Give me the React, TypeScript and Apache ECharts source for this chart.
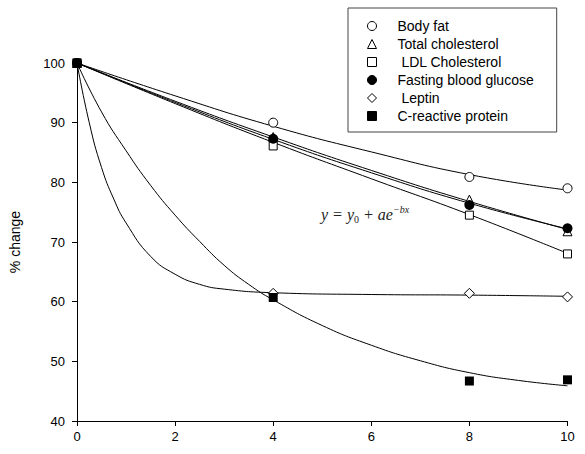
import React, { useEffect, useRef } from "react";
import * as echarts from "echarts";

// Measured points
const timePoints = [0, 4, 8, 10];
const bodyFat = [100, 90.0, 80.9, 79.0];
const totalChol = [100, 87.6, 77.1, 71.8];
const ldlChol = [100, 86.1, 74.5, 68.0];
const glucose = [100, 87.3, 76.2, 72.3];
const leptin = [100, 61.4, 61.4, 60.8];
const crp = [100, 60.7, 46.7, 46.9];

// Fitted curves
const fitX = [0, 2, 4, 6, 8, 10];
const bodyFatFit = [100, 94.5, 89.4, 85.1, 81.3, 78.7];
const totalCholFit = [100, 93.6, 87.6, 82.0, 76.8, 72.1];
const glucoseFit = [100, 93.4, 87.2, 81.6, 76.5, 72.2];
const ldlFit = [100, 93.2, 86.7, 80.6, 74.6, 68.1];
const leptinFitX = [0, 0.25, 0.5, 0.75, 1, 1.5, 2, 2.5, 3, 4, 6, 8, 10];
const leptinFit = [100, 90.0, 82.5, 77.2, 73.2, 67.6, 64.6, 62.9, 62.1, 61.5, 61.2, 61.1, 60.9];
const crpFitX = [0, 0.5, 1, 1.5, 2, 2.5, 3, 3.5, 4, 5, 6, 7, 8, 9, 10];
const crpFit = [100, 91.8, 85.3, 79.5, 74.5, 70.1, 66.1, 62.9, 60.3, 56.0, 52.7, 50.1, 48.1, 46.8, 45.9];

const seriesNames = [
  "Body fat",
  "Total cholesterol",
  " LDL Cholesterol",
  "Fasting blood glucose",
  " Leptin",
  "C-reactive protein",
];

const xTicks = { min: 0, max: 10, interval: 2 };
const yTicks = { min: 40, max: 100, interval: 10 };

const pair = (xs: number[], ys: number[]) => xs.map((x, i) => [x, ys[i]]);

export default function App() {
  const ref = useRef<HTMLDivElement>(null);
  useEffect(() => {
    if (!ref.current) return;
    const chart = echarts.init(ref.current, undefined, { renderer: "svg" });
    const fits: [string, number[], number[]][] = [
      ["fit-bodyfat", fitX, bodyFatFit],
      ["fit-chol", fitX, totalCholFit],
      ["fit-ldl", fitX, ldlFit],
      ["fit-glucose", fitX, glucoseFit],
      ["fit-leptin", leptinFitX, leptinFit],
      ["fit-crp", crpFitX, crpFit],
    ];
    const lineSeries = fits.map(([name, xs, ys]) => ({
      name,
      type: "line",
      data: pair(xs, ys),
      smooth: 0.5,
      showSymbol: false,
      symbol: "none",
      lineStyle: { color: "#000", width: 1 },
      silent: true,
      z: 2,
    }));
    const hollow = { color: "#fff", borderColor: "#000", borderWidth: 1, opacity: 1 };
    const filled = { color: "#000", borderColor: "#000", borderWidth: 0, opacity: 1 };
    const pts: [string, number[], string, number, any][] = [
      [seriesNames[0], bodyFat, "circle", 9, hollow],
      [seriesNames[1], totalChol, "triangle", 9, hollow],
      [seriesNames[2], ldlChol, "rect", 8, hollow],
      [seriesNames[3], glucose, "circle", 10, filled],
      [seriesNames[4], leptin, "diamond", 10, hollow],
      [seriesNames[5], crp, "rect", 9, filled],
    ];
    const scatterSeries = pts.map(([name, ys, symbol, size, style]) => ({
      name,
      type: "scatter",
      data: pair(timePoints, ys),
      symbol,
      symbolSize: size,
      itemStyle: style,
      clip: false,
      z: 3,
    }));

    chart.setOption({
      animation: false,
      textStyle: { fontFamily: "Liberation Sans" },
      grid: { left: 71, right: 17.5, top: 63, bottom: 33 },
      legend: {
        data: seriesNames,
        orient: "vertical",
        left: 348,
        top: 8,
        padding: [11, 23, 9, 19],
        itemGap: 4,
        itemWidth: 9,
        itemHeight: 9,
        borderColor: "#444",
        borderWidth: 1,
        selectedMode: false,
        itemStyle: { borderWidth: 1 },
        textStyle: {
          fontFamily: "Liberation Sans",
          fontSize: 14,
          color: "#000",
          lineHeight: 14,
          padding: [0, 0, 0, 16],
        },
      },
      xAxis: {
        type: "value",
        ...xTicks,
        axisLine: { show: true, lineStyle: { color: "#000", width: 1 } },
        axisTick: { show: true, length: 5, lineStyle: { color: "#000" } },
        axisLabel: { color: "#000", fontSize: 13, margin: 9, fontFamily: "Liberation Sans" },
        splitLine: { show: false },
      },
      yAxis: {
        type: "value",
        ...yTicks,
        name: "% change",
        nameLocation: "middle",
        nameRotate: 90,
        nameGap: 55,
        nameTextStyle: { color: "#000", fontSize: 14, fontFamily: "Liberation Sans" },
        axisLine: { show: true, lineStyle: { color: "#000", width: 1 } },
        axisTick: { show: true, length: 5, lineStyle: { color: "#000" } },
        axisLabel: { color: "#000", fontSize: 13, margin: 12, fontFamily: "Liberation Sans" },
        splitLine: { show: false },
      },
      graphic: [
        {
          type: "text",
          left: 321,
          top: 204,
          silent: true,
          style: {
            text: "{m|y = y}{s|0}{m| + ae}{p|\u2212bx}",
            fill: "#222",
            rich: {
              m: {
                fontFamily: "Liberation Serif",
                fontStyle: "italic",
                fontSize: 16,
                lineHeight: 20,
                fill: "#222",
              },
              s: {
                fontFamily: "Liberation Serif",
                fontSize: 10,
                lineHeight: 10,
                verticalAlign: "bottom",
                fill: "#222",
              },
              p: {
                fontFamily: "Liberation Serif",
                fontStyle: "italic",
                fontSize: 10,
                lineHeight: 10,
                verticalAlign: "top",
                fill: "#222",
              },
            },
          },
        },
      ],
      series: [...lineSeries, ...scatterSeries],
    });
    return () => chart.dispose();
  }, []);
  return (
    <div
      ref={ref}
      style={{ position: "absolute", left: 0, top: 0, width: 585, height: 454 }}
    />
  );
}
